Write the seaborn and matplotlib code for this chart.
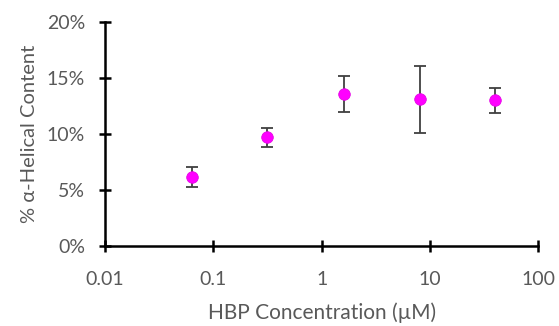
import numpy as np
import pandas as pd
import matplotlib
matplotlib.use("Agg")
import matplotlib.pyplot as plt
import seaborn as sns
from matplotlib.ticker import FuncFormatter

# data
concentration = [0.064, 0.315, 1.6, 8.0, 40.0]
helical_pct = [6.2, 9.7, 13.6, 13.1, 13.0]
err_pct = [0.9, 0.85, 1.6, 3.0, 1.1]

x_ticks = [0.01, 0.1, 1, 10, 100]
x_tick_labels = ["0.01", "0.1", "1", "10", "100"]
y_ticks = [0, 5, 10, 15, 20]

sns.set_style("white")
plt.rcParams["font.family"] = ["Lato", "DejaVu Sans"]

df = pd.DataFrame({"conc": concentration, "helix": helical_pct, "err": err_pct})

fig = plt.figure(figsize=(5.59, 3.26), dpi=100)
ax = fig.add_axes([0.188, 0.245, 0.775, 0.688])

ax.errorbar(df["conc"], df["helix"], yerr=df["err"], fmt="none",
            ecolor="#404040", elinewidth=1.3, capsize=4.5, capthick=1.3, zorder=2)
sns.scatterplot(data=df, x="conc", y="helix", ax=ax, color="#ff00ff",
                s=70, edgecolor="#e000e0", linewidth=0.5, zorder=3, legend=False)

ax.set_xscale("log")
ax.set_xlim(0.01, 100)
ax.set_ylim(0, 20)
ax.set_xticks(x_ticks)
ax.set_xticklabels(x_tick_labels)
ax.xaxis.set_minor_locator(matplotlib.ticker.NullLocator())
ax.set_yticks(y_ticks)
ax.yaxis.set_major_formatter(FuncFormatter(lambda v, p: f"{v:.0f}%"))

for side in ["top", "right"]:
    ax.spines[side].set_visible(False)
for side in ["left", "bottom"]:
    ax.spines[side].set_color("black")
    ax.spines[side].set_linewidth(1.8)

ax.tick_params(axis="both", direction="inout", length=9, width=1.8,
               color="black", labelsize=14, labelcolor="#595959",
               bottom=True, left=True)
ax.tick_params(axis="y", pad=10)
ax.tick_params(axis="x", pad=13.5)

ax.set_xlabel("HBP Concentration (µM)", fontsize=15, color="#595959", labelpad=10)
ax.set_ylabel("% α-Helical Content", fontsize=14.5, color="#595959", labelpad=6)

fig.savefig("out.png", dpi=100)
